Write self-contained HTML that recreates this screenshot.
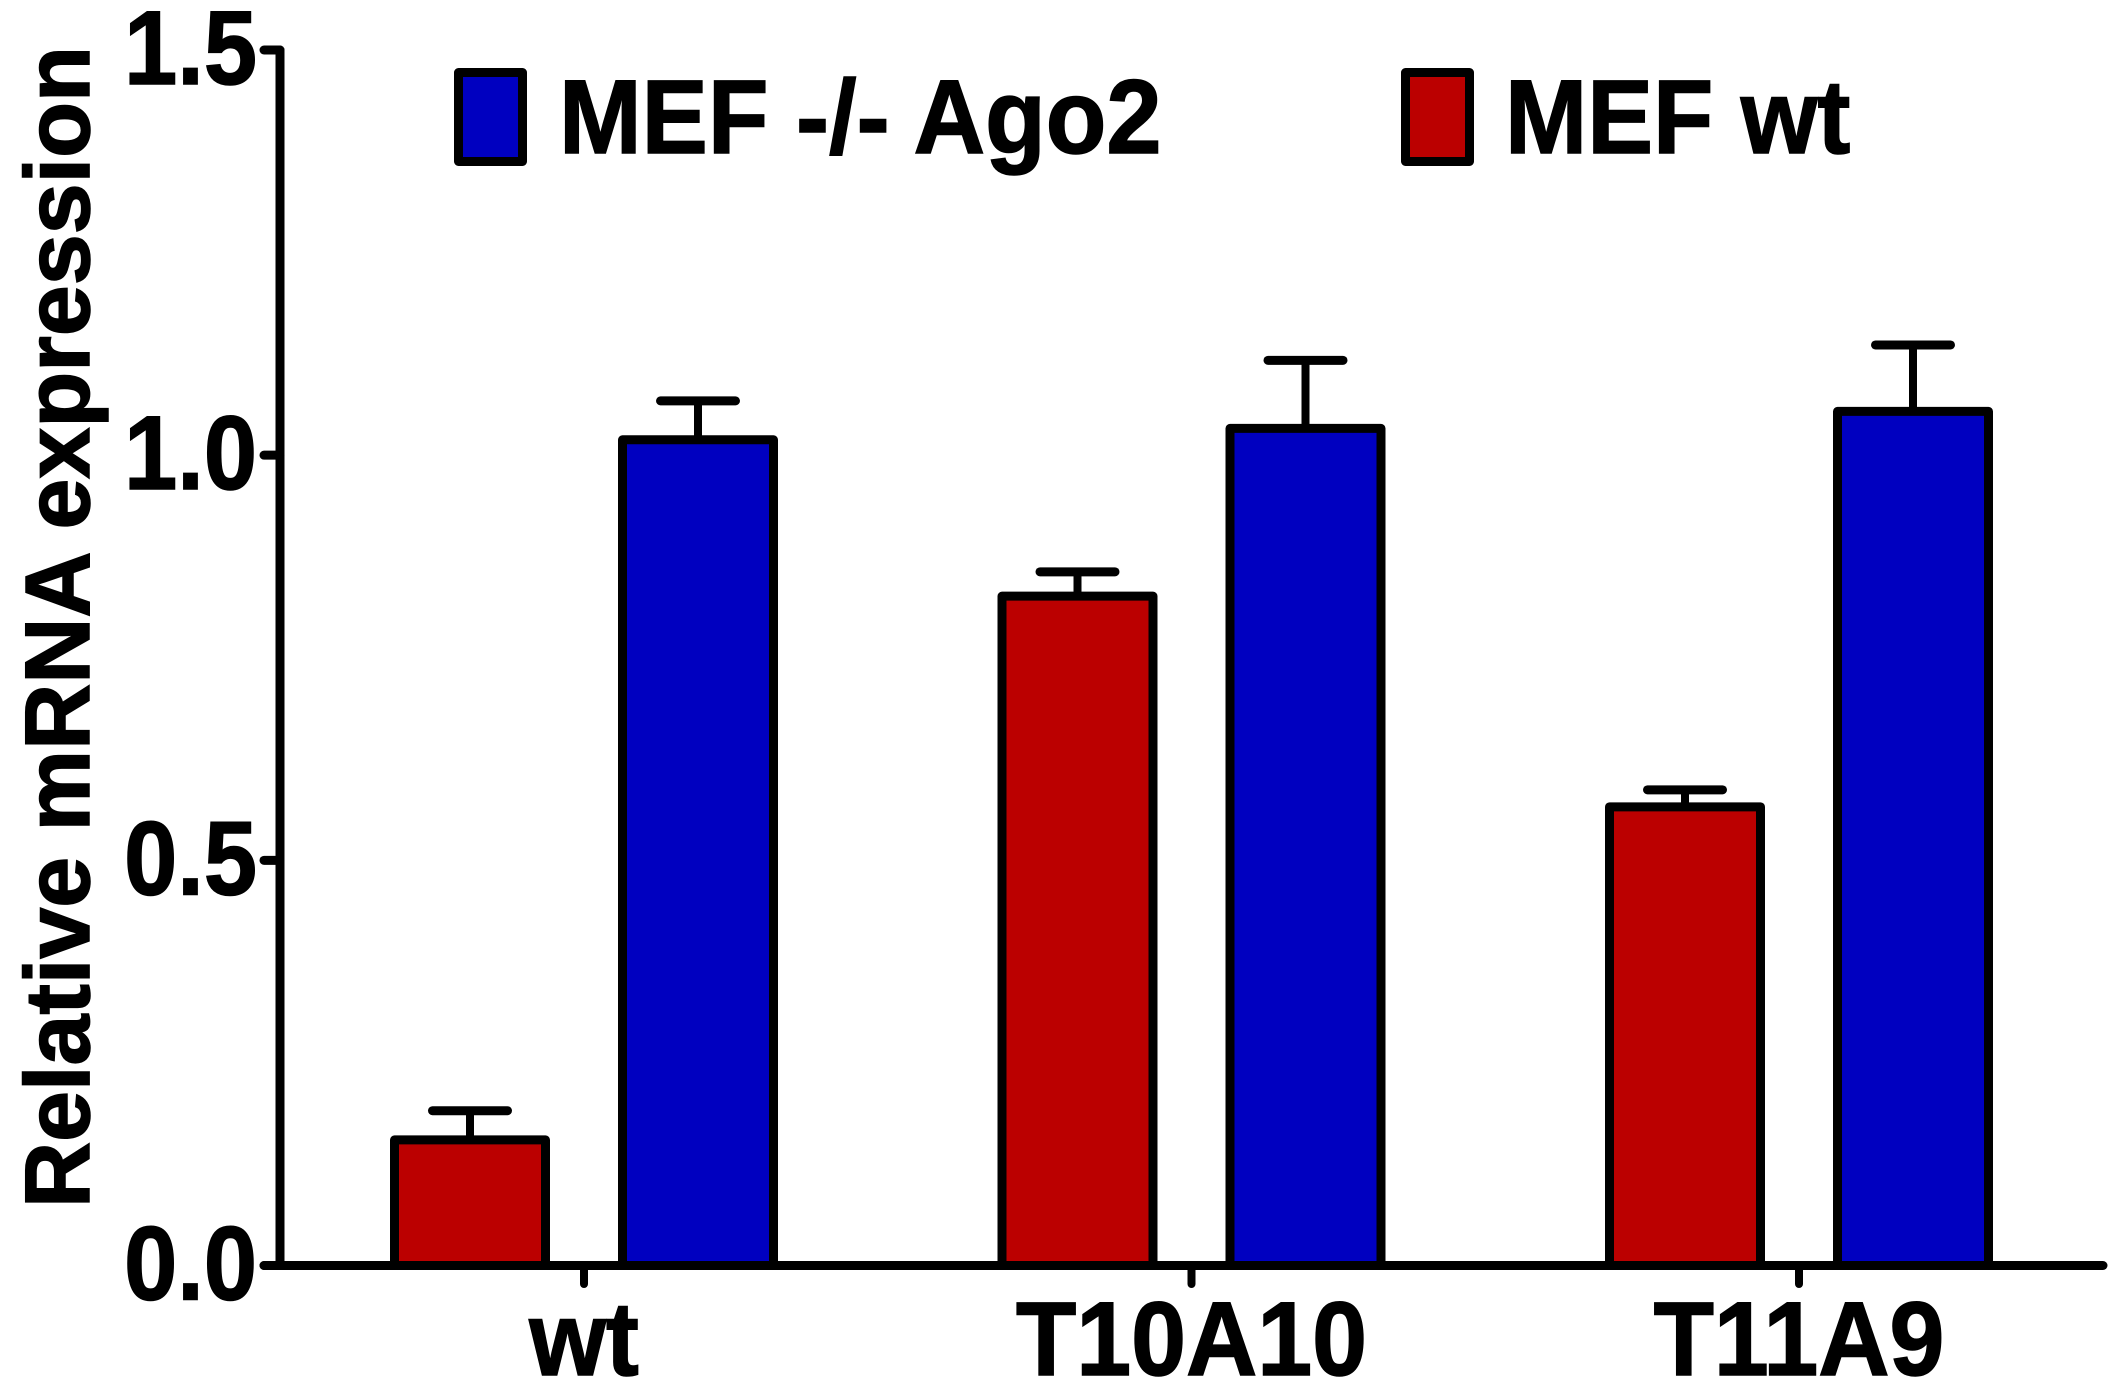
<!DOCTYPE html>
<html lang="en">
<head>
<meta charset="utf-8">
<title>Relative mRNA expression</title>
<style>
html,body{margin:0;padding:0;background:#fff;}
svg{display:block;}
text{font-family:"Liberation Sans",Arial,sans-serif;font-weight:bold;fill:#000;stroke:#000;stroke-width:1.5px;}
</style>
</head>
<body>
<svg id="chart" xmlns="http://www.w3.org/2000/svg" width="2109" height="1388" viewBox="0 0 2109 1388">
  <rect x="0" y="0" width="2109" height="1388" fill="#ffffff"/>
  <text transform="translate(89,1208) rotate(-90)" font-size="92" textLength="1162" lengthAdjust="spacingAndGlyphs">Relative mRNA expression</text>
  <g>
    <rect x="458.5" y="72.5" width="64" height="89" fill="#0000c0" stroke="#000" stroke-width="9" stroke-linejoin="round"/>
    <text transform="translate(559,153) scale(0.945,1)" font-size="105">MEF -/- Ago2</text>
    <rect x="1405.5" y="72.5" width="64" height="89" fill="#bb0000" stroke="#000" stroke-width="9" stroke-linejoin="round"/>
    <text transform="translate(1505,153) scale(0.94,1)" font-size="105">MEF wt</text>
  </g>
  <g id="bars"></g>
  <g id="axes"></g>
</svg>
<script>
const categories = ['wt', 'T10A10', 'T11A9'];
const mefWtValues = [0.155, 0.826, 0.566];
const mefWtErrors = [0.036, 0.030, 0.021];
const mefKoValues = [1.019, 1.033, 1.054];
const mefKoErrors = [0.048, 0.084, 0.082];
const yTickValues = [0, 0.5, 1, 1.5];
const yTickLabels = ['0.0', '0.5', '1.0', '1.5'];

const NS = 'http://www.w3.org/2000/svg';
const yAxisBottom = 1265.5, yAxisTop = 50, yMax = 1.5;
const firstCategoryX = 584, categoryStep = 607.5;
const barOffset = 114, barWidth = 151, capHalf = 37.5;

function yScale(v) { return yAxisBottom - (v / yMax) * (yAxisBottom - yAxisTop); }
function xScale(i) { return firstCategoryX + i * categoryStep; }

function line(parent, x1, y1, x2, y2, width) {
  const el = document.createElementNS(NS, 'line');
  el.setAttribute('x1', x1);
  el.setAttribute('y1', y1);
  el.setAttribute('x2', x2);
  el.setAttribute('y2', y2);
  el.setAttribute('stroke', '#000');
  el.setAttribute('stroke-width', width);
  el.setAttribute('stroke-linecap', 'round');
  parent.appendChild(el);
  return el;
}

const barsLayer = document.getElementById('bars');
const axesLayer = document.getElementById('axes');

function drawBar(cx, value, error, color, key) {
  const top = yScale(value);
  const errTop = yScale(value + error);

  const stem = line(barsLayer, cx, top, cx, errTop, 8);
  
  

  const cap = line(barsLayer, cx - capHalf, errTop, cx + capHalf, errTop, 9);
  
  

  const bar = document.createElementNS(NS, 'rect');
  bar.setAttribute('x', cx - barWidth / 2);
  bar.setAttribute('y', top);
  bar.setAttribute('width', barWidth);
  bar.setAttribute('height', yAxisBottom - top);
  bar.setAttribute('fill', color);
  bar.setAttribute('stroke', '#000');
  bar.setAttribute('stroke-width', 9);
  bar.setAttribute('stroke-linejoin', 'round');
  
  
  barsLayer.appendChild(bar);
}

categories.forEach(function (cat, i) {
  const slug = cat.toLowerCase();
  drawBar(xScale(i) - barOffset, mefWtValues[i], mefWtErrors[i], '#bb0000', slug + '-mef-wt');
  drawBar(xScale(i) + barOffset, mefKoValues[i], mefKoErrors[i], '#0000c0', slug + '-mef-ago2-knockout');
});

const yAxisLine = line(axesLayer, 280, yAxisTop, 280, yAxisBottom, 9);



const xAxisLine = line(axesLayer, 264, yAxisBottom, 2103, yAxisBottom, 9);



yTickValues.forEach(function (v, i) {
  const y = yScale(v);
  const tick = line(axesLayer, 264, y, 280, y, 9);
  
  

  const label = document.createElementNS(NS, 'text');
  label.setAttribute('transform', 'translate(257,' + (y + 34) + ') scale(0.91,1)');
  label.setAttribute('text-anchor', 'end');
  label.setAttribute('font-size', '105');
  
  
  label.textContent = yTickLabels[i];
  axesLayer.appendChild(label);
});

categories.forEach(function (cat, i) {
  const x = xScale(i);
  const tick = line(axesLayer, x, yAxisBottom, x, 1284, 8);
  
  

  const label = document.createElementNS(NS, 'text');
  label.setAttribute('transform', 'translate(' + x + ',1375) scale(0.94,1)');
  label.setAttribute('text-anchor', 'middle');
  label.setAttribute('font-size', '105');
  
  
  label.textContent = cat;
  axesLayer.appendChild(label);
});
</script>
</body>
</html>
